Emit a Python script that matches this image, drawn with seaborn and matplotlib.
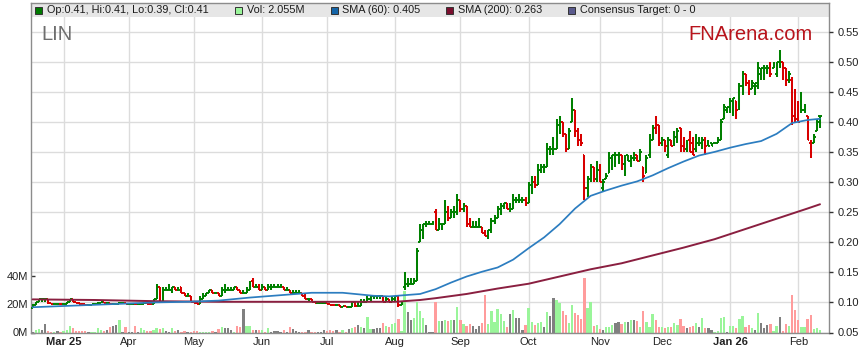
import numpy as np
import pandas as pd
import matplotlib
matplotlib.use("Agg")
import matplotlib.pyplot as plt
import seaborn as sns
from matplotlib.patches import Rectangle
from matplotlib import transforms

# ---------------- data (daily bars, one per trading day) ----------------
opens = [
    .091, .096, .100, .105, .105, .105, .099, .097, .098, .098,
    .097, .098, .100, .105, .100, .099, .098, .097, .096, .096,
    .097, .098, .099, .100, .099, .099, .098, .098, .098, .099,
    .099, .098, .098, .098, .097, .097, .098, .099, .098, .097,
    .105, .125, .100, .120, .120, .120, .125, .120, .125, .115,
    .110, .110, .100, .099, .098, .105, .110, .115, .120, .115,
    .115, .110, .120, .120, .120, .120, .125, .120, .115, .115,
    .120, .135, .125, .125, .120, .125, .120, .125, .125, .125,
    .125, .125, .120, .120, .115, .115, .115, .115, .110, .105,
    .105, .100, .099, .099, .099, .099, .097, .096, .095, .095,
    .093, .094, .093, .093, .100, .094, .094, .100, .100, .105,
    .110, .110, .110, .110, .100, .105, .100, .105, .110, .095,
    .125, .130, .130, .130, .135, .200, .220, .230, .230, .230,
    .250, .220, .230, .230, .250, .240, .250, .250, .270, .255,
    .260, .230, .225, .225, .225, .225, .215, .210, .220, .235,
    .240, .255, .260, .265, .255, .255, .270, .270, .270, .270,
    .265, .295, .300, .295, .320, .325, .325, .355, .355, .355,
    .395, .400, .380, .355, .400, .420, .385, .370, .345, .290,
    .305, .325, .305, .320, .290, .305, .315, .340, .335, .345,
    .345, .330, .345, .335, .340, .345, .335, .325, .315, .345,
    .370, .390, .395, .365, .370, .345, .370, .365, .370, .390,
    .360, .355, .370, .365, .355, .365, .370, .370, .365, .365,
    .365, .365, .370, .405, .420, .425, .435, .435, .425, .460,
    .480, .465, .455, .460, .460, .480, .485, .485, .495, .490,
    .480, .500, .500, .490, .470, .470, .450, .430, .420, .420,
    .410, .365, .365, .385, .410]
highs = [
    .097, .100, .105, .105, .105, .105, .099, .098, .098, .098,
    .098, .100, .105, .105, .100, .100, .099, .098, .097, .097,
    .098, .100, .100, .100, .100, .099, .099, .098, .100, .099,
    .099, .098, .099, .098, .098, .098, .100, .099, .098, .105,
    .130, .125, .125, .125, .130, .125, .125, .125, .125, .115,
    .115, .110, .100, .100, .110, .115, .115, .120, .120, .115,
    .115, .125, .130, .125, .125, .125, .125, .120, .120, .125,
    .135, .140, .130, .130, .130, .125, .130, .130, .130, .130,
    .130, .125, .125, .120, .120, .120, .120, .115, .115, .105,
    .105, .100, .100, .100, .099, .099, .097, .096, .095, .095,
    .094, .094, .094, .100, .100, .100, .105, .105, .110, .110,
    .110, .110, .110, .110, .110, .105, .110, .110, .110, .100,
    .150, .140, .140, .140, .190, .230, .230, .235, .235, .235,
    .255, .240, .230, .270, .260, .255, .260, .280, .270, .265,
    .260, .240, .235, .235, .240, .225, .220, .220, .240, .245,
    .260, .265, .265, .265, .265, .280, .275, .280, .275, .275,
    .300, .310, .310, .330, .330, .330, .365, .360, .375, .405,
    .410, .400, .380, .390, .440, .420, .390, .380, .345, .310,
    .330, .325, .335, .330, .305, .315, .350, .345, .350, .350,
    .345, .345, .345, .345, .350, .345, .355, .325, .345, .380,
    .395, .410, .395, .375, .370, .375, .370, .385, .390, .390,
    .375, .370, .385, .375, .380, .375, .375, .375, .370, .365,
    .365, .375, .405, .430, .425, .440, .440, .435, .465, .485,
    .480, .470, .470, .465, .500, .490, .495, .495, .500, .500,
    .500, .520, .500, .490, .485, .475, .455, .435, .450, .430,
    .410, .370, .380, .405, .410]
lows = [
    .090, .095, .100, .100, .100, .098, .097, .097, .097, .096,
    .097, .098, .100, .100, .099, .098, .097, .096, .096, .096,
    .097, .098, .099, .099, .099, .098, .098, .097, .098, .098,
    .097, .097, .098, .096, .097, .097, .098, .098, .097, .097,
    .105, .100, .100, .120, .120, .115, .120, .120, .115, .110,
    .110, .100, .099, .098, .098, .105, .110, .115, .115, .115,
    .110, .110, .115, .120, .120, .120, .120, .115, .115, .115,
    .120, .125, .125, .120, .120, .120, .120, .120, .125, .125,
    .125, .120, .120, .115, .115, .115, .115, .110, .105, .100,
    .100, .099, .099, .099, .098, .097, .096, .095, .094, .093,
    .093, .093, .093, .093, .093, .094, .094, .100, .100, .100,
    .105, .105, .105, .100, .100, .100, .100, .100, .092, .095,
    .120, .125, .130, .130, .135, .200, .205, .225, .230, .230,
    .220, .220, .220, .230, .235, .240, .240, .245, .250, .250,
    .225, .225, .225, .225, .225, .215, .210, .205, .215, .230,
    .240, .245, .255, .255, .250, .255, .265, .265, .265, .260,
    .265, .280, .290, .295, .315, .315, .325, .345, .345, .355,
    .380, .375, .350, .355, .400, .375, .360, .360, .270, .275,
    .300, .300, .300, .300, .285, .305, .315, .320, .325, .330,
    .320, .310, .335, .325, .335, .335, .335, .300, .315, .340,
    .370, .380, .360, .360, .350, .340, .360, .360, .365, .350,
    .350, .350, .350, .345, .350, .360, .355, .345, .360, .360,
    .365, .365, .370, .405, .415, .415, .410, .405, .420, .445,
    .460, .445, .455, .445, .455, .470, .470, .480, .475, .490,
    .475, .490, .470, .460, .465, .395, .400, .400, .415, .415,
    .370, .340, .365, .385, .390]
closes = [
    .096, .100, .105, .105, .105, .099, .097, .098, .098, .097,
    .098, .100, .105, .100, .099, .098, .097, .096, .096, .097,
    .098, .099, .100, .099, .099, .098, .098, .098, .099, .099,
    .098, .098, .098, .097, .097, .098, .099, .098, .097, .105,
    .125, .100, .120, .120, .120, .125, .120, .120, .115, .110,
    .110, .100, .099, .098, .105, .110, .115, .120, .115, .115,
    .110, .120, .120, .120, .120, .125, .120, .115, .115, .120,
    .130, .125, .125, .120, .125, .120, .125, .125, .125, .125,
    .125, .120, .120, .115, .115, .115, .115, .110, .105, .105,
    .100, .099, .099, .099, .099, .097, .096, .095, .095, .093,
    .094, .093, .093, .100, .094, .094, .100, .100, .105, .110,
    .110, .110, .110, .100, .105, .100, .105, .110, .095, .100,
    .130, .130, .130, .135, .185, .220, .230, .230, .230, .230,
    .220, .230, .230, .250, .240, .250, .250, .270, .255, .260,
    .230, .225, .225, .225, .225, .215, .210, .220, .235, .240,
    .255, .260, .265, .255, .255, .270, .270, .270, .270, .265,
    .295, .300, .295, .320, .325, .325, .355, .355, .355, .395,
    .400, .380, .355, .385, .420, .385, .370, .365, .290, .305,
    .325, .305, .320, .300, .300, .310, .340, .345, .345, .345,
    .330, .335, .335, .340, .340, .335, .350, .310, .340, .370,
    .390, .385, .365, .370, .360, .370, .360, .375, .385, .360,
    .355, .355, .350, .345, .365, .365, .370, .360, .360, .360,
    .365, .370, .400, .425, .425, .435, .440, .420, .460, .475,
    .465, .455, .465, .465, .490, .490, .490, .490, .480, .495,
    .500, .500, .490, .470, .480, .410, .405, .400, .420, .425,
    .370, .350, .375, .400, .410]
volumes_m = [
    0.7, 1.9, 2.4, 1.5, 5.8, 1.0, 0.5, 0.3, 1.2, 0.5,
    1.3, 1.5, 4.7, 3.4, 0.8, 0.8, 0.8, 0.8, 0.5, 0.2,
    0.5, 3.3, 1.9, 1.0, 1.9, 4.0, 4.4, 5.0, 9.0, 0.5,
    4.0, 0.5, 0.5, 4.4, 0.3, 3.5, 2.1, 1.0, 1.0, 2.0,
    3.1, 2.5, 3.0, 1.0, 0.5, 3.3, 0.8, 1.5, 0.5, 1.0,
    0.3, 0.4, 1.0, 1.0, 0.5, 0.5, 0.3, 0.5, 0.8, 0.5,
    2.7, 3.8, 3.3, 3.3, 1.9, 0.5, 4.7, 3.8, 16.6, 4.7,
    4.7, 1.9, 1.9, 2.1, 1.9, 0.5, 3.3, 0.5, 1.0, 1.0,
    0.5, 1.9, 0.5, 3.8, 2.4, 1.0, 0.3, 0.5, 0.5, 1.9,
    0.5, 0.3, 0.3, 0.3, 1.9, 1.0, 1.9, 1.0, 1.9, 0.3,
    1.9, 0.3, 2.4, 3.1, 4.2, 5.4, 4.2, 3.1, 10.7, 2.6,
    2.6, 3.1, 3.1, 6.6, 4.7, 4.2, 6.0, 6.6, 9.4, 0.8,
    29.6, 14.7, 9.0, 10.0, 21.8, 15.0, 10.0, 5.4, 0.5, 0.3,
    21.8, 8.4, 8.4, 9.1, 8.4, 8.8, 8.8, 17.8, 8.8, 6.0,
    4.7, 6.0, 4.7, 2.8, 4.7, 6.6, 26.5, 6.0, 15.2, 7.6,
    16.8, 13.2, 8.4, 4.2, 13.2, 16.0, 10.4, 10.4, 1.9, 5.4,
    17.7, 7.8, 5.4, 7.0, 7.6, 3.8, 14.9, 11.8, 24.7, 23.0,
    21.2, 15.6, 12.5, 7.0, 19.6, 14.2, 12.5, 9.4, 38.9, 17.7,
    21.9, 4.7, 5.4, 2.4, 1.9, 4.2, 3.8, 5.4, 7.0, 7.6,
    6.0, 7.6, 7.6, 8.8, 8.8, 8.4, 4.2, 15.2, 7.8, 4.2,
    13.2, 8.8, 3.8, 3.8, 3.1, 3.8, 4.2, 7.0, 5.4, 9.6,
    4.7, 3.1, 3.8, 4.7, 6.6, 3.8, 10.6, 3.5, 3.5, 1.9,
    0.3, 1.4, 10.4, 11.1, 0.3, 4.7, 4.7, 3.1, 9.4, 11.8,
    4.2, 5.4, 3.1, 1.9, 14.2, 7.0, 3.1, 5.4, 6.0, 1.0,
    4.7, 11.1, 1.0, 6.0, 4.7, 26.5, 16.0, 9.0, 4.2, 3.8,
    9.4, 12.5, 2.6, 3.1, 2.055]

sma60_day = [0, 10, 20, 30, 40, 50, 60, 70, 80, 90, 100, 110, 115, 120, 125,
             130, 135, 140, 145, 150, 155, 160, 165, 170, 175, 180, 185, 190,
             195, 200, 205, 210, 215, 220, 225, 230, 235, 240, 245, 250, 254]
sma60 = [.092, .094, .096, .098, .100, .101, .103, .108, .112, .116, .116, .111,
         .110, .112, .114, .122, .133, .143, .151, .158, .171, .190, .208, .230,
         .256, .277, .286, .294, .301, .311, .323, .334, .344, .350, .357, .363,
         .368, .380, .398, .403, .405]
sma200_day = [0, 20, 40, 60, 80, 100, 117, 125, 130, 140, 150, 160, 170, 180,
              190, 200, 210, 220, 230, 240, 250, 254]
sma200 = [.105, .104, .102, .101, .101, .101, .101, .104, .107, .114, .123, .131,
          .143, .155, .165, .178, .191, .205, .222, .239, .256, .263]

month_day = [10, 31, 52, 74, 95, 117, 138, 160, 183, 203, 225, 247]
month_labels = ["Mar 25", "Apr", "May", "Jun", "Jul", "Aug", "Sep", "Oct",
                "Nov", "Dec", "Jan 26", "Feb"]
price_ticks = [0.05, 0.10, 0.15, 0.20, 0.25, 0.30, 0.35, 0.40, 0.45, 0.50, 0.55]
vol_ticks = [0, 20, 40]
vol_tick_labels = ["0M", "20M", "40M"]
ticker = "LIN"
brand = "FNArena.com"
legend_texts = ["Op:0.41, Hi:0.41, Lo:0.39, Cl:0.41", "Vol: 2.055M",
                "SMA (60): 0.405", "SMA (200): 0.263", "Consensus Target: 0 - 0"]

# ---------------- style ----------------
sns.set_theme(style="white")
plt.rcParams['font.family'] = ['Liberation Sans', 'DejaVu Sans']

W, H = 859, 363
fig = plt.figure(figsize=(W / 100, H / 100), dpi=100, facecolor="white")
X0, X1, YT, YB = 31, 829, 3, 332.5
ax = fig.add_axes([X0 / W, (H - YB) / H, (X1 - X0) / W, (YB - YT) / H])
ax2 = ax.twinx()
ax2.patch.set_visible(False)

o = np.array(opens); h = np.array(highs); l = np.array(lows); c = np.array(closes)
n = len(c)
day = np.arange(n)
prev = np.concatenate([[c[0]], c[:-1]])
move = np.where(c > prev + 1e-9, "up", np.where(c < prev - 1e-9, "down", "flat"))
bar_col = np.where(c >= prev - 1e-9, "#008000", "#D80000")

# volume (left axis)
vol_df = pd.DataFrame({"day": day, "volume": volumes_m, "move": move})
sns.barplot(data=vol_df, x="day", y="volume", hue="move",
            hue_order=["up", "down", "flat"],
            palette={"up": "#9AF59A", "down": "#FF9C9C", "flat": "#808080"},
            native_scale=True, dodge=False, width=0.72, errorbar=None,
            legend=False, saturation=1, ax=ax, zorder=2, edgecolor="none")

ax.set_xlim(-0.52, 256.9)
vol_top = 40 * (YB - YT) / (YB - 276.3)
ax.set_ylim(0, vol_top)
ax2.set_ylim(0.05, 0.05 + (YB - YT) / 30.1 * 0.05)

# horizontal price gridlines drawn beneath volume bars
trans = transforms.blended_transform_factory(ax.transAxes, ax2.transData)
for t in price_ticks:
    ax.plot([0, 1], [t, t], transform=trans, color="#DCDCDC", lw=1.0, zorder=0.6)

# OHLC bars (right axis)
ax2.vlines(day, l, h, colors=bar_col, lw=1.45, zorder=3)
ax2.hlines(o, day - 0.55, day, colors=bar_col, lw=1.4, zorder=3)
ax2.hlines(c, day, day + 0.55, colors=bar_col, lw=1.4, zorder=3)

sns.lineplot(x=sma200_day, y=sma200, ax=ax2, color="#8A1F40", lw=1.4, zorder=4)
sns.lineplot(x=sma60_day, y=sma60, ax=ax2, color="#2C7DC0", lw=1.25, zorder=4)

# axes cosmetics
ax.set_xticks(month_day)
ax.set_xticklabels(month_labels)
for lab in ax.get_xticklabels():
    if any(ch.isdigit() for ch in lab.get_text()):
        lab.set_fontweight("bold")
ax.grid(axis="x", color="#DCDCDC", lw=1.0)
ax.grid(axis="y", visible=False)
ax2.grid(False)
ax.set_axisbelow(True)
ax.set_yticks(vol_ticks)
ax.set_yticklabels(vol_tick_labels)
ax2.set_yticks(price_ticks)
ax2.set_yticklabels([f"{t:.2f}" for t in price_ticks])
ax.set_xlabel(""); ax.set_ylabel(""); ax2.set_xlabel(""); ax2.set_ylabel("")

ax.tick_params(axis="x", length=0, pad=3.5, labelsize=8, labelcolor="#222222")
ax.tick_params(axis="y", direction="in", length=3, width=1, color="#333333",
               pad=2, labelsize=8, labelcolor="#222222", left=True, right=False)
ax2.tick_params(axis="y", direction="out", length=3, width=1, color="#333333",
                pad=3, labelsize=8, labelcolor="#222222", right=True, left=False)
for sp in ax.spines.values():
    sp.set_color("#8C8C8C"); sp.set_linewidth(1.0)
for sp in ax2.spines.values():
    sp.set_visible(False)

# legend band at the top of the panel
band_h = (17 - YT) / (YB - YT)
ax.add_patch(Rectangle((0, 1 - band_h), 1, band_h, transform=ax.transAxes,
                       facecolor="#E6E6E6", edgecolor="none", zorder=1.5))


def fx(x):
    return x / W


def fy(y):
    return 1 - y / H


sq_x = [35, 235, 331, 446, 568]
tx_x = [47, 247, 342.5, 458, 580]
sq_col = ["#007A00", "#9AF59A", "#1565A8", "#7A0E2E", "#5A5A8C"]
for sx, tx, col, txt in zip(sq_x, tx_x, sq_col, legend_texts):
    fig.add_artist(Rectangle((fx(sx), fy(13.5)), 7 / W, 7 / H,
                             transform=fig.transFigure, facecolor=col,
                             edgecolor="#333333", lw=0.7))
    fig.text(fx(tx), fy(10.2), txt, fontsize=7.8, color="#1A1A1A",
             va="center", ha="left")

fig.text(fx(41), fy(39.5), ticker, fontsize=14.5, color="#6E6E6E",
         va="baseline", ha="left")
fig.text(fx(688), fy(39.5), brand, fontsize=14.5, color="#B8141C",
         va="baseline", ha="left")

fig.savefig("out.png", dpi=100, facecolor="white")
